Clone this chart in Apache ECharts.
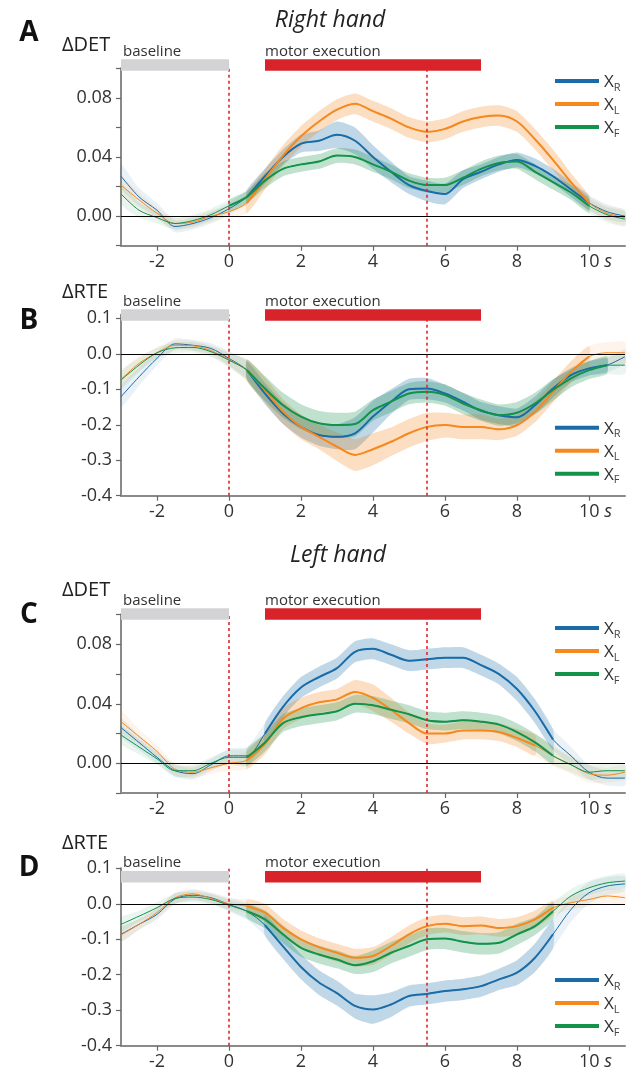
<!DOCTYPE html>
<html>
<head>
<meta charset="utf-8">
<script src="https://cdn.jsdelivr.net/npm/echarts@6/dist/echarts.min.js"></script>
<style>
html, body { margin: 0; padding: 0; background: #fff; }
#chart { width: 637px; height: 1072px; }
</style>
</head>
<body>
<div id="chart"></div>
<script>
// sample times (s)
var times = [-3, -2.5, -2, -1.5, -1, -0.5, 0, 0.5, 1, 1.5, 2, 2.5, 3, 3.5, 4, 4.5, 5, 5.5, 6, 6.5, 7, 7.5, 8, 8.5, 9, 9.5, 10, 10.5, 11];

// A: ΔDET, right hand
var detRightR = [0.027, 0.013, 0.004, -0.007, -0.005, -0.001, 0.005, 0.013, 0.027, 0.040, 0.049, 0.051, 0.055, 0.051, 0.040, 0.030, 0.021, 0.017, 0.015, 0.025, 0.030, 0.035, 0.038, 0.034, 0.027, 0.018, 0.009, 0.003, 0.000];
var detRightL = [0.021, 0.011, 0.002, -0.005, -0.004, 0.000, 0.003, 0.009, 0.025, 0.041, 0.054, 0.064, 0.072, 0.076, 0.071, 0.066, 0.060, 0.057, 0.059, 0.064, 0.067, 0.068, 0.064, 0.052, 0.038, 0.023, 0.009, 0.002, -0.001];
var detRightF = [0.015, 0.004, -0.001, -0.005, -0.003, 0.001, 0.007, 0.013, 0.024, 0.032, 0.035, 0.037, 0.041, 0.040, 0.035, 0.030, 0.024, 0.021, 0.021, 0.026, 0.032, 0.036, 0.037, 0.030, 0.023, 0.016, 0.007, 0.001, -0.002];
var detRightRsd = [0.008, 0.006, 0.005, 0.004, 0.004, 0.004, 0.004, 0.005, 0.005, 0.005, 0.006, 0.007, 0.009, 0.009, 0.008, 0.007, 0.006, 0.007, 0.007, 0.006, 0.005, 0.005, 0.005, 0.005, 0.005, 0.005, 0.005, 0.005, 0.004];
var detRightLsd = [0.006, 0.005, 0.004, 0.004, 0.004, 0.004, 0.004, 0.007, 0.007, 0.007, 0.007, 0.007, 0.007, 0.007, 0.007, 0.007, 0.007, 0.007, 0.007, 0.007, 0.007, 0.007, 0.007, 0.007, 0.007, 0.006, 0.005, 0.005, 0.005];
var detRightFsd = [0.007, 0.005, 0.004, 0.004, 0.004, 0.004, 0.004, 0.004, 0.005, 0.005, 0.005, 0.005, 0.005, 0.005, 0.005, 0.005, 0.005, 0.005, 0.005, 0.005, 0.005, 0.005, 0.005, 0.005, 0.005, 0.005, 0.005, 0.005, 0.005];

// B: ΔRTE, right hand
var rteRightR = [-0.121, -0.065, -0.013, 0.028, 0.024, 0.015, -0.013, -0.046, -0.112, -0.168, -0.206, -0.229, -0.234, -0.224, -0.177, -0.135, -0.100, -0.098, -0.112, -0.135, -0.161, -0.173, -0.179, -0.145, -0.098, -0.060, -0.041, -0.032, -0.008];
var rteRightL = [-0.072, -0.027, 0.003, 0.024, 0.023, 0.009, -0.016, -0.046, -0.102, -0.163, -0.206, -0.234, -0.262, -0.285, -0.269, -0.248, -0.224, -0.206, -0.201, -0.206, -0.206, -0.213, -0.201, -0.163, -0.107, -0.051, -0.008, 0.003, 0.003];
var rteRightF = [-0.074, -0.032, 0.003, 0.017, 0.018, 0.006, -0.018, -0.046, -0.098, -0.145, -0.177, -0.196, -0.201, -0.198, -0.159, -0.135, -0.112, -0.107, -0.116, -0.140, -0.159, -0.173, -0.166, -0.140, -0.102, -0.069, -0.046, -0.032, -0.032];
var rteRightRsd = [0.030, 0.025, 0.020, 0.015, 0.015, 0.015, 0.020, 0.025, 0.030, 0.030, 0.030, 0.030, 0.035, 0.045, 0.045, 0.035, 0.030, 0.030, 0.025, 0.025, 0.025, 0.025, 0.025, 0.025, 0.025, 0.020, 0.020, 0.020, 0.020];
var rteRightLsd = [0.020, 0.020, 0.015, 0.015, 0.015, 0.015, 0.020, 0.030, 0.035, 0.035, 0.035, 0.035, 0.040, 0.045, 0.045, 0.040, 0.040, 0.040, 0.035, 0.035, 0.035, 0.030, 0.030, 0.030, 0.030, 0.030, 0.030, 0.030, 0.030];
var rteRightFsd = [0.025, 0.020, 0.015, 0.015, 0.015, 0.015, 0.020, 0.030, 0.035, 0.035, 0.035, 0.035, 0.035, 0.035, 0.030, 0.030, 0.030, 0.030, 0.030, 0.030, 0.030, 0.030, 0.030, 0.030, 0.030, 0.025, 0.025, 0.025, 0.025];

// C: ΔDET, left hand
var detLeftR = [0.024, 0.014, 0.004, -0.005, -0.007, -0.001, 0.005, 0.005, 0.020, 0.038, 0.051, 0.058, 0.064, 0.075, 0.077, 0.073, 0.069, 0.070, 0.071, 0.071, 0.066, 0.060, 0.050, 0.035, 0.016, 0.005, -0.006, -0.010, -0.010];
var detLeftL = [0.028, 0.018, 0.008, -0.004, -0.006, -0.003, 0.000, 0.002, 0.013, 0.030, 0.037, 0.041, 0.043, 0.048, 0.044, 0.036, 0.027, 0.020, 0.020, 0.022, 0.022, 0.021, 0.017, 0.012, 0.005, -0.001, -0.007, -0.008, -0.006];
var detLeftF = [0.019, 0.011, 0.003, -0.005, -0.005, 0.000, 0.004, 0.004, 0.014, 0.027, 0.031, 0.033, 0.035, 0.040, 0.039, 0.036, 0.033, 0.029, 0.028, 0.029, 0.028, 0.026, 0.021, 0.014, 0.005, -0.001, -0.006, -0.005, -0.005];
var detLeftRsd = [0.006, 0.005, 0.004, 0.004, 0.004, 0.004, 0.005, 0.006, 0.007, 0.007, 0.007, 0.007, 0.007, 0.007, 0.007, 0.007, 0.007, 0.007, 0.007, 0.007, 0.007, 0.007, 0.008, 0.008, 0.007, 0.006, 0.005, 0.005, 0.005];
var detLeftLsd = [0.007, 0.005, 0.004, 0.004, 0.004, 0.004, 0.005, 0.006, 0.007, 0.007, 0.007, 0.007, 0.007, 0.008, 0.009, 0.008, 0.007, 0.007, 0.006, 0.006, 0.006, 0.006, 0.006, 0.007, 0.007, 0.006, 0.006, 0.005, 0.005];
var detLeftFsd = [0.006, 0.005, 0.004, 0.004, 0.004, 0.004, 0.005, 0.006, 0.006, 0.006, 0.006, 0.006, 0.006, 0.006, 0.006, 0.006, 0.006, 0.006, 0.006, 0.006, 0.006, 0.006, 0.006, 0.006, 0.006, 0.005, 0.005, 0.005, 0.005];

// D: ΔRTE, left hand
var rteLeftR = [-0.086, -0.058, -0.030, 0.014, 0.024, 0.017, -0.002, -0.021, -0.060, -0.120, -0.178, -0.222, -0.252, -0.288, -0.298, -0.284, -0.260, -0.254, -0.246, -0.241, -0.232, -0.213, -0.194, -0.152, -0.086, -0.016, 0.031, 0.050, 0.056];
var rteLeftL = [-0.088, -0.058, -0.025, 0.017, 0.028, 0.015, 0.000, -0.007, -0.025, -0.068, -0.100, -0.122, -0.138, -0.152, -0.147, -0.119, -0.086, -0.063, -0.056, -0.063, -0.061, -0.068, -0.063, -0.044, -0.011, 0.003, 0.012, 0.022, 0.017];
var rteLeftF = [-0.058, -0.035, -0.011, 0.015, 0.019, 0.012, -0.004, -0.021, -0.044, -0.086, -0.124, -0.143, -0.157, -0.173, -0.162, -0.138, -0.119, -0.100, -0.098, -0.107, -0.113, -0.110, -0.086, -0.063, -0.021, 0.022, 0.045, 0.059, 0.064];
var rteLeftRsd = [0.020, 0.015, 0.015, 0.015, 0.015, 0.015, 0.020, 0.025, 0.030, 0.035, 0.035, 0.035, 0.035, 0.035, 0.040, 0.035, 0.030, 0.030, 0.030, 0.030, 0.030, 0.030, 0.035, 0.040, 0.040, 0.035, 0.030, 0.025, 0.020];
var rteLeftLsd = [0.020, 0.015, 0.015, 0.015, 0.015, 0.015, 0.015, 0.020, 0.025, 0.025, 0.025, 0.025, 0.025, 0.025, 0.025, 0.025, 0.025, 0.025, 0.025, 0.025, 0.025, 0.025, 0.025, 0.025, 0.020, 0.020, 0.020, 0.020, 0.020];
var rteLeftFsd = [0.020, 0.015, 0.015, 0.015, 0.015, 0.015, 0.015, 0.020, 0.025, 0.025, 0.025, 0.025, 0.025, 0.025, 0.030, 0.030, 0.030, 0.030, 0.030, 0.030, 0.030, 0.030, 0.030, 0.025, 0.025, 0.020, 0.020, 0.020, 0.020];

// time ranges drawn with a thick line / stronger band [start, end]
var sigA = { R: [0.5, 10], L: [0.5, 10], F: [0, 10] };
var sigB = { R: [0.5, 10.5], L: [0.5, 10], F: [0.5, 10.5] };
var sigC = { R: [1, 9], L: [0.5, 8.5], F: [0.5, 9] };
var sigD = { R: [1, 9], L: [0.5, 9], F: [0.5, 9] };

// task windows
var windowNames = ['baseline', 'motor execution'];
var windowSpans = [[-3, 0], [1, 7]];
var markTimes = [0, 5.5];

// ticks
var xTicks = [-2, 0, 2, 4, 6, 8, 10];
var detTicks = [-0.02, 0, 0.02, 0.04, 0.06, 0.08, 0.1];
var detLabels = [0, 0.04, 0.08];
var rteTicks = [-0.4, -0.3, -0.2, -0.1, 0, 0.1];
var rteLabels = [-0.4, -0.3, -0.2, -0.1, 0, 0.1];

var keys = ['R', 'L', 'F'];
var colors = { R: '#1a6ca8', L: '#f5891f', F: '#13924a' };
var FONT = '"Open Sans", "DejaVu Sans", sans-serif';

var panels = [
  { letter: 'A', metric: 'ΔDET', top: 68.3, height: 177.4, min: -0.02, max: 0.1, ticks: detTicks, labels: detLabels, digits: 2,
    mean: { R: detRightR, L: detRightL, F: detRightF }, sd: { R: detRightRsd, L: detRightLsd, F: detRightFsd }, sig: sigA,
    barOff: -9, legendTop: 74, letterY: 33, metricY: 45 },
  { letter: 'B', metric: 'ΔRTE', top: 314.8, height: 180.9, min: -0.4, max: 0.11, ticks: rteTicks, labels: rteLabels, digits: 1,
    mean: { R: rteRightR, L: rteRightL, F: rteRightF }, sd: { R: rteRightRsd, L: rteRightLsd, F: rteRightFsd }, sig: sigB,
    barOff: -5.5, legendTop: 420.7, letterY: 321, metricY: 292 },
  { letter: 'C', metric: 'ΔDET', top: 614.6, height: 178.4, min: -0.02, max: 0.1, ticks: detTicks, labels: detLabels, digits: 2,
    mean: { R: detLeftR, L: detLeftL, F: detLeftF }, sd: { R: detLeftRsd, L: detLeftLsd, F: detLeftFsd }, sig: sigC,
    barOff: -6.3, legendTop: 621, letterY: 615, metricY: 590 },
  { letter: 'D', metric: 'ΔRTE', top: 868.3, height: 177.4, min: -0.4, max: 0.1, ticks: rteTicks, labels: rteLabels, digits: 1,
    mean: { R: rteLeftR, L: rteLeftL, F: rteLeftF }, sd: { R: rteLeftRsd, L: rteLeftLsd, F: rteLeftFsd }, sig: sigD,
    barOff: 2.7, legendTop: 973, letterY: 868, metricY: 843 }
];

var grids = [], xAxes = [], yAxes = [], series = [], legends = [], graphics = [];

function bandSeries(i, key, idxs, m, s, alpha) {
  return {
    type: 'custom', xAxisIndex: i, yAxisIndex: i, silent: true, z: 1,
    data: idxs.map(function (j) { return [times[j], m[j]]; }),
    renderItem: function (params, api) {
      if (params.dataIndex !== 0) return;
      var up = idxs.map(function (j) { return api.coord([times[j], m[j] + s[j]]); });
      var dn = idxs.map(function (j) { return api.coord([times[j], m[j] - s[j]]); }).reverse();
      return { type: 'polygon', shape: { points: up.concat(dn), smooth: 0.2 },
        style: { fill: colors[key], opacity: alpha } };
    }
  };
}

panels.forEach(function (p, i) {
  grids.push({ left: 121, width: 504, top: p.top, height: p.height, outerBoundsMode: 'none' });
  xAxes.push({
    gridIndex: i, type: 'value', min: -3, max: 11,
    axisLine: { onZero: false, lineStyle: { color: '#8a8a8a', width: 2 } },
    axisTick: { customValues: xTicks, length: 5, lineStyle: { color: '#666', width: 1.2 } },
    axisLabel: {
      customValues: xTicks, margin: 7, color: '#333', fontSize: 18, fontFamily: FONT,
      formatter: function (v) { return v === 10 ? '{p|}10{i| s}' : String(v); },
      rich: { p: { width: 13 }, i: { fontStyle: 'italic', fontSize: 18, fontFamily: FONT, color: '#333' } }
    },
    splitLine: { show: false }
  });
  yAxes.push({
    gridIndex: i, type: 'value', min: p.min, max: p.max,
    axisLine: { show: true, onZero: false, lineStyle: { color: '#8a8a8a', width: 2 } },
    axisTick: { show: true, customValues: p.ticks, length: 5, lineStyle: { color: '#666', width: 1.2 } },
    axisLabel: {
      customValues: p.labels, margin: 9, color: '#333', fontSize: 18, fontFamily: FONT,
      formatter: function (v) { return v.toFixed(p.digits); }
    },
    splitLine: { show: false }
  });

  var all = times.map(function (t, j) { return j; });
  // faint bands over full range
  keys.forEach(function (k) {
    series.push(bandSeries(i, k, all, p.mean[k], p.sd[k], 0.09));
  });
  // stronger bands in significant ranges
  keys.forEach(function (k) {
    var r = p.sig[k];
    var idx = all.filter(function (j) { return times[j] >= r[0] && times[j] <= r[1]; });
    series.push(bandSeries(i, k, idx, p.mean[k], p.sd[k], 0.2));
  });
  // thin lines
  keys.forEach(function (k, n) {
    var s = {
      type: 'line', name: k + ' all', xAxisIndex: i, yAxisIndex: i, silent: true, z: 3,
      data: all.map(function (j) { return [times[j], p.mean[k][j]]; }),
      smooth: 0.3, symbol: 'none', lineStyle: { width: 1, color: colors[k] }, itemStyle: { color: colors[k] }
    };
    if (n === 0) {
      s.markLine = {
        silent: true, symbol: ['none', 'none'], label: { show: false }, animation: false,
        lineStyle: { color: '#e3262e', type: [3, 3], width: 1.6 },
        data: [{ yAxis: 0, lineStyle: { color: '#000', type: 'solid', width: 1 } }].concat(
          markTimes.map(function (t) { return { xAxis: t }; }))
      };
    }
    series.push(s);
  });
  // thick lines
  keys.forEach(function (k) {
    var r = p.sig[k];
    series.push({
      type: 'line', name: k, xAxisIndex: i, yAxisIndex: i, silent: true, z: 4,
      data: all.filter(function (j) { return times[j] >= r[0] && times[j] <= r[1]; })
        .map(function (j) { return [times[j], p.mean[k][j]]; }),
      smooth: 0.3, symbol: 'none', lineStyle: { width: 2, color: colors[k] }, itemStyle: { color: colors[k] }
    });
  });
  // task windows
  series.push({
    type: 'custom', xAxisIndex: i, yAxisIndex: i, silent: true, z: 6, clip: false,
    data: windowSpans.map(function (w, n) { return [w[0], w[1], n]; }),
    renderItem: function (params, api) {
      var x0 = api.coord([api.value(0), 0])[0];
      var x1 = api.coord([api.value(1), 0])[0];
      var n = api.value(2);
      var top = params.coordSys.y + p.barOff;
      return {
        type: 'group', children: [
          { type: 'rect', shape: { x: x0, y: top, width: x1 - x0, height: 11.5 },
            style: { fill: n === 0 ? '#d3d3d5' : '#d9232a' } },
          { type: 'text', x: x0 + (n === 0 ? 2 : 0), y: top - 8,
            style: { text: windowNames[n], fill: '#333', fontSize: 15, fontFamily: FONT, verticalAlign: 'middle' } }
        ]
      };
    }
  });

  legends.push({
    data: keys, orient: 'vertical', left: 555, top: p.legendTop, padding: 0,
    itemWidth: 44, itemHeight: 4, itemGap: 4, icon: 'rect', selectedMode: false,
    formatter: function (name) { return '{x|X}{s|' + name + '}'; },
    textStyle: {
      color: '#333',
      rich: {
        x: { fontSize: 17, lineHeight: 20, fontFamily: FONT, color: '#333', verticalAlign: 'bottom' },
        s: { fontSize: 11, lineHeight: 20, fontFamily: FONT, color: '#444', verticalAlign: 'bottom', padding: [0, 0, -2, 0] }
      }
    }
  });

  graphics.push({ type: 'text', x: 29, y: p.letterY,
    style: { text: p.letter, fontSize: 28, fontWeight: 'bold', fontFamily: FONT, fill: '#111', align: 'center', verticalAlign: 'middle' } });
  graphics.push({ type: 'text', x: 62, y: p.metricY,
    style: { text: p.metric, fontSize: 20, fontFamily: FONT, fill: '#222', align: 'left', verticalAlign: 'middle' } });
});

graphics.push({ type: 'text', x: 330, y: 20,
  style: { text: 'Right hand', fontSize: 23, fontStyle: 'italic', fontFamily: FONT, fill: '#222', align: 'center', verticalAlign: 'middle' } });
graphics.push({ type: 'text', x: 338, y: 555,
  style: { text: 'Left hand', fontSize: 23, fontStyle: 'italic', fontFamily: FONT, fill: '#222', align: 'center', verticalAlign: 'middle' } });

var chart = echarts.init(document.getElementById('chart'));
chart.setOption({
  animation: false,
  backgroundColor: '#fff',
  grid: grids,
  xAxis: xAxes,
  yAxis: yAxes,
  legend: legends,
  graphic: graphics,
  series: series
});
</script>
</body>
</html>
